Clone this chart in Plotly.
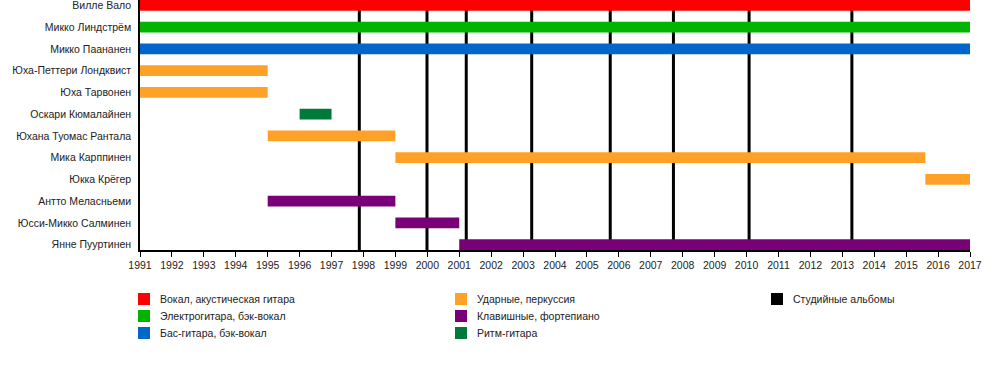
import plotly.graph_objects as go

members = ["Вилле Вало", "Микко Линдстрём", "Микко Паананен", "Юха-Петтери Лондквист",
           "Юха Тарвонен", "Оскари Кюмалайнен", "Юхана Туомас Рантала", "Мика Карппинен",
           "Юкка Крёгер", "Антто Меласньеми", "Юсси-Микко Салминен", "Янне Пууртинен"]
starts = [1991, 1991, 1991, 1991, 1991, 1996, 1995, 1999, 2015.6, 1995, 1999, 2001]
ends = [2017, 2017, 2017, 1995, 1995, 1997, 1999, 2015.6, 2017, 1999, 2001, 2017]
roles = ["vocal", "guitar", "bass", "drums", "drums", "rhythm", "drums", "drums", "drums",
         "keys", "keys", "keys"]

role_keys = ["vocal", "guitar", "bass", "drums", "keys", "rhythm"]
role_names = ["Вокал, акустическая гитара", "Электрогитара, бэк-вокал", "Бас-гитара, бэк-вокал",
              "Ударные, перкуссия", "Клавишные, фортепиано", "Ритм-гитара"]
role_colors = ["#FF0000", "#00B400", "#0066CC", "#FFA126", "#7A0078", "#007A3A"]

albums = [1997.87, 1999.99, 2001.22, 2003.27, 2005.73, 2007.71, 2010.08, 2013.30]
album_label = "Студийные альбомы"
album_color = "#000000"

years = list(range(1991, 2018))

FONT = "Arial, Liberation Sans, sans-serif"

fig = go.Figure()

for key, name, color in zip(role_keys, role_names, role_colors):
    idx = [i for i, r in enumerate(roles) if r == key]
    fig.add_trace(go.Bar(
        orientation="h",
        y=idx,
        base=[starts[i] for i in idx],
        x=[ends[i] - starts[i] for i in idx],
        width=0.5,
        marker=dict(color=color, line=dict(width=0)),
        name=name,
        showlegend=False,
        hoverinfo="skip",
    ))

for a in albums:
    fig.add_shape(type="line", xref="x", yref="y", x0=a, x1=a, y0=-0.25, y1=11.25,
                  line=dict(color="#000000", width=3), layer="below")

# Legend laid out as three columns (pixel positions converted to paper coords)
plot_left, plot_w, plot_bottom, plot_h = 140, 830, 250, 250
legend_items = list(zip(role_names, role_colors)) + [(album_label, album_color)]
col_x = [138, 455, 771]   # square left edge (px)
row_y = [299, 316, 333]   # row centre (px)
layout_pos = [(0, 0), (0, 1), (0, 2), (1, 0), (1, 1), (1, 2), (2, 0)]
sq = 12
for (label, color), (c, r) in zip(legend_items, layout_pos):
    x0 = (col_x[c] - plot_left) / plot_w
    x1 = (col_x[c] + sq - plot_left) / plot_w
    y0 = (plot_bottom - (row_y[r] - sq / 2)) / plot_h
    y1 = (plot_bottom - (row_y[r] + sq / 2)) / plot_h
    fig.add_shape(type="rect", xref="paper", yref="paper", x0=x0, x1=x1, y0=y0, y1=y1,
                  fillcolor=color, line=dict(width=0))
    fig.add_annotation(xref="paper", yref="paper",
                       x=(col_x[c] + 20 - plot_left) / plot_w,
                       y=(plot_bottom - row_y[r]) / plot_h,
                       text=label, showarrow=False, xanchor="left", yanchor="middle",
                       font=dict(family=FONT, size=10.5, color="#222222"))

fig.update_layout(
    width=1000, height=370,
    margin=dict(l=140, r=30, t=0, b=120, autoexpand=False),
    plot_bgcolor="white", paper_bgcolor="white",
    barmode="overlay",
    showlegend=False,
    hovermode=False,
    font=dict(family=FONT, size=11, color="#222222"),
    xaxis=dict(range=[1991, 2017], tickvals=years, ticktext=[str(y) for y in years],
               showgrid=False, zeroline=False, showline=True, linecolor="#000000",
               linewidth=1.5, ticks="outside", ticklen=5, tickcolor="#000000",
               tickfont=dict(size=10.5, color="#222222"), automargin=False,
               ticklabeloverflow="allow", fixedrange=True),
    yaxis=dict(range=[11.25, -0.25], tickvals=list(range(len(members))), ticktext=members,
               showgrid=False, zeroline=False, showline=True, linecolor="#000000",
               linewidth=1.5, ticks="", ticklabelstandoff=5, automargin=False,
               ticklabeloverflow="allow", fixedrange=True,
               tickfont=dict(size=10.5, color="#222222")),
)

fig.write_html("out.html", config={"displayModeBar": False},
               post_script="document.body.style.margin='0';document.body.style.padding='0';")
